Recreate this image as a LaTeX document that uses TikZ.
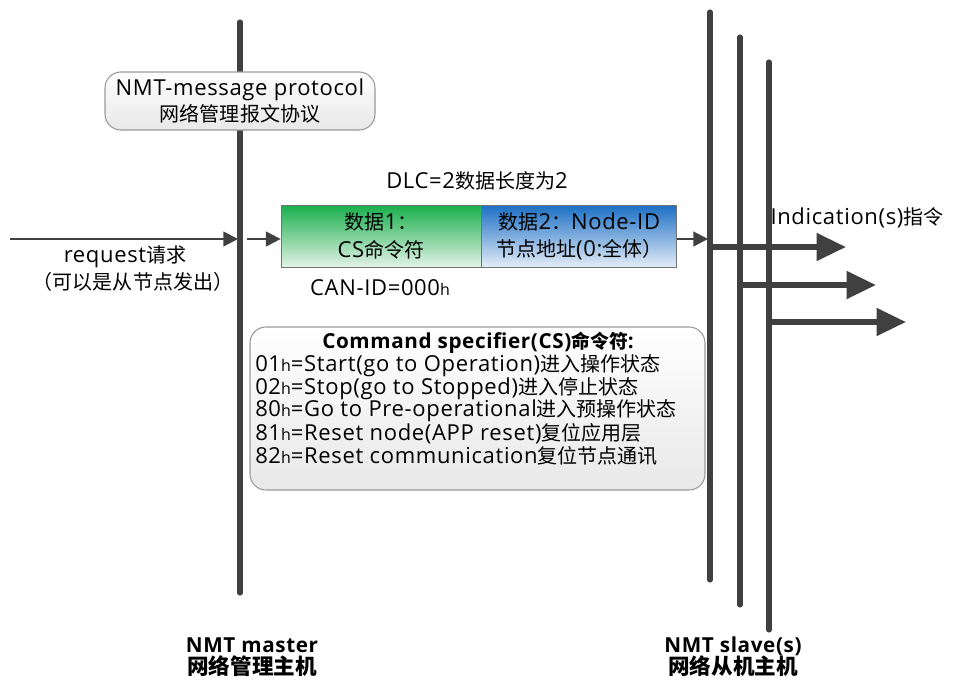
\documentclass[tikz,border=0pt]{standalone}
\usepackage{fontspec}
\setmainfont[LetterSpace=3]{Open Sans}
\newfontfamily\cjk[Scale=0.91]{Noto Sans CJK SC}
\usetikzlibrary{arrows.meta,shadings}
\definecolor{lineg}{HTML}{404040}
\definecolor{boxborder}{HTML}{9A9A9A}
\definecolor{greentop}{HTML}{19AE4C}
\definecolor{greenbot}{HTML}{E2F3E6}
\definecolor{bluetop}{HTML}{1B6FC4}
\definecolor{bluebot}{HTML}{E3ECF7}
\newcommand\hsub{{\fontsize{12}{12}\selectfont h}}
\newcommand\zh[1]{{\cjk #1}}
\tikzset{
  busline/.style={draw=lineg,line width=3.8pt,line cap=round},
  thinarrow/.style={draw=lineg,line width=1.6pt,-{Triangle[length=11pt,width=11pt]}},
  fatarrow/.style={draw=lineg,line width=4.2pt,-{Triangle[length=22pt,width=20pt]}},
  roundbox/.style={draw=boxborder,line width=0.8pt,rounded corners=12pt,top color=white,bottom color=black!9,inner sep=0pt},
  databox/.style={draw=black!55,line width=0.6pt,inner sep=0pt,minimum height=46.5pt,align=center,font=\fontsize{16.5}{20.5}\selectfont},
  lbl/.style={inner sep=0pt,align=center},
  bold/.style={inner sep=0pt,align=center,font=\fontsize{15.5}{16}\selectfont\bfseries},
  boldlbl/.style={inner sep=0pt,align=center,text height=11pt,text depth=0pt,font=\fontsize{15.5}{16}\selectfont\bfseries},
  boldzh/.style={inner sep=0pt,align=center,text height=12pt,text depth=1pt,font=\fontsize{17.8}{18}\selectfont\bfseries\cjk}
}
\begin{document}
\begin{tikzpicture}[x=0.75pt,y=-0.75pt,font=\fontsize{16.5}{19.5}\selectfont]
\useasboundingbox[fill=white] (0,0) rectangle (954,679);

% master line
\coordinate (mtop) at (240,22);
\coordinate (mbot) at (240,593);
\draw[busline] (mtop) -- (mbot);

% slave lines
\coordinate (s1top) at (710,12);
\coordinate (s1bot) at (710,580);
\coordinate (s2top) at (740,37);
\coordinate (s2bot) at (740,605);
\coordinate (s3top) at (769,62);
\coordinate (s3bot) at (769,630);
\draw[busline] (s1top) -- (s1bot);
\draw[busline] (s2top) -- (s2bot);
\draw[busline] (s3top) -- (s3bot);

% indication arrows
\coordinate (i1) at (710,247);
\coordinate (i1e) at (846,247);
\coordinate (i2) at (740,285);
\coordinate (i2e) at (876,285);
\coordinate (i3) at (769,322);
\coordinate (i3e) at (906,322);
\draw[fatarrow] (i1) -- (i1e);
\draw[fatarrow] (i2) -- (i2e);
\draw[fatarrow] (i3) -- (i3e);
\node[lbl] (ind) at (857,218) {Indication(s)\zh{指令}};

% protocol box
\node[roundbox,minimum width=202.5pt,minimum height=43.5pt,align=center] (proto) at (240,101)
  {NMT-message protocol\\\zh{网络管理报文协议}};

% request arrow
\coordinate (reqs) at (10,239);
\coordinate (reqe) at (238,239);
\draw[thinarrow] (reqs) -- (reqe);
\node[lbl] (req1) at (125,257) {request\zh{请求}};
\node[lbl] (req2) at (133,282) {\zh{（可以是从节点发出）}};

% data boxes
\node[lbl] (dlc) at (477,181) {DLC=2\zh{数据长度为}2};
\node[databox,minimum width=150pt,top color=greentop,bottom color=greenbot] (d1) at (381,236)
  {\zh{数据}1\zh{：}\\CS\zh{命令符}};
\node[databox,minimum width=146.25pt,top color=bluetop,bottom color=bluebot,anchor=west] (d2) at (d1.east)
  {\zh{数据}2\zh{：}Node-ID\\\zh{节点地址}(0:\zh{全体）}};
\node[lbl] (canid) at (380,288) {CAN-ID=000\hsub};
\coordinate (a2s) at (247,239);
\draw[thinarrow] (a2s) -- (d1.west |- a2s);
\coordinate (a3e) at (708,239);
\draw[thinarrow] (d2.east |- a3e) -- (a3e);

% command box
\node[roundbox,minimum width=341.25pt,minimum height=122.25pt] (cmd) at (477.5,408.5) {};
\node[bold] (cmdt) at (478,343) {Command specifier(CS)\zh{命令符}:};
\node[lbl,anchor=west] (c1) at (255,366) {01\hsub=Start(go to Operation)\zh{进入操作状态}};
\node[lbl,anchor=west] (c2) at (255,388.5) {02\hsub=Stop(go to Stopped)\zh{进入停止状态}};
\node[lbl,anchor=west] (c3) at (255,411) {80\hsub=Go to Pre-operational\zh{进入预操作状态}};
\node[lbl,anchor=west] (c4) at (255,433.5) {81\hsub=Reset node(APP reset)\zh{复位应用层}};
\node[lbl,anchor=west] (c5) at (255,456) {82\hsub=Reset communication\zh{复位节点通讯}};

% bottom labels
\node[boldlbl] (ml1) at (252,645) {NMT master};
\node[boldzh] (ml2) at (252,667) {网络管理主机};
\node[boldlbl] (sl1) at (733,645) {NMT slave(s)};
\node[boldzh] (sl2) at (733,667) {网络从机主机};
\end{tikzpicture}
\end{document}
